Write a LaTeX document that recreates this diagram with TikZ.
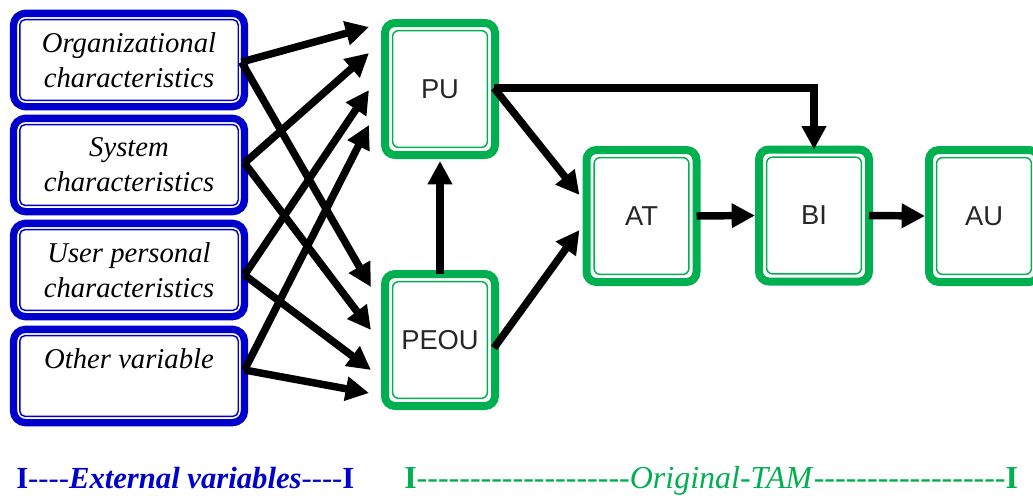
\documentclass[tikz,border=0pt]{standalone}
\usepackage{fontspec}
\setmainfont{Liberation Serif}
\setsansfont{Liberation Sans}
\usepackage{graphicx}
\usetikzlibrary{arrows.meta,calc}
\definecolor{tamgreen}{RGB}{0,176,80}
\definecolor{extblue}{RGB}{0,0,204}
\definecolor{labelgray}{RGB}{38,38,38}
\newcommand\dashrun[1]{\foreach \i in {1,...,#1}{-\kern0pt}}
\begin{document}
\begin{tikzpicture}[x=0.75pt,y=-0.75pt,
  extbox/.style={draw=extblue, line width=5.5pt, rounded corners=9pt, outer sep=0pt,
    minimum width=173.25pt, minimum height=70pt, inner sep=0pt, fill=white,
    align=center, font=\itshape\fontsize{21.5pt}{26.25pt}\selectfont},
  extinner/.style={draw=extblue, line width=1.1pt, rounded corners=4pt},
  tambox/.style={draw=tamgreen, line width=6pt, rounded corners=7.5pt, outer sep=0pt,
    minimum width=82.5pt, minimum height=99pt, inner sep=0pt, fill=white,
    text=labelgray, font=\sffamily\fontsize{20.5pt}{24pt}\selectfont},
  taminner/.style={draw=tamgreen, line width=1.1pt, rounded corners=4.5pt},
  arr/.style={line width=5.6pt, -{Triangle[length=17.5pt,width=17.5pt]}},
  lbl/.style={anchor=base west, inner sep=0pt}]
\useasboundingbox (0,0) rectangle (1033,496);

% external variables
\node[extbox] (org) at (129,60) {Organizational\\characteristics};
\node[extbox] (sys) at (129,165) {System\\characteristics};
\node[extbox] (usr) at (129,270) {User personal\\characteristics};
\node[extbox] (oth) at (129,376) {Other variable\\\mbox{}};
\draw[extinner] ([xshift=4.7pt,yshift=-4.7pt]org.north west) rectangle ([xshift=-4.7pt,yshift=4.7pt]org.south east);
\draw[extinner] ([xshift=4.7pt,yshift=-4.7pt]sys.north west) rectangle ([xshift=-4.7pt,yshift=4.7pt]sys.south east);
\draw[extinner] ([xshift=4.7pt,yshift=-4.7pt]usr.north west) rectangle ([xshift=-4.7pt,yshift=4.7pt]usr.south east);
\draw[extinner] ([xshift=4.7pt,yshift=-4.7pt]oth.north west) rectangle ([xshift=-4.7pt,yshift=4.7pt]oth.south east);

% original TAM
\node[tambox] (PU) at (440,89) {PU};
\node[tambox] (PEOU) at (440,340) {PEOU};
\node[tambox] (AT) at (641.5,216) {AT};
\node[tambox] (BI) at (814,215.5) {BI};
\node[tambox] (AU) at (984,216) {AU};
\draw[taminner] ([xshift=5.7pt,yshift=-5.7pt]PU.north west) rectangle ([xshift=-5.7pt,yshift=5.7pt]PU.south east);
\draw[taminner] ([xshift=5.7pt,yshift=-5.7pt]PEOU.north west) rectangle ([xshift=-5.7pt,yshift=5.7pt]PEOU.south east);
\draw[taminner] ([xshift=5.7pt,yshift=-5.7pt]AT.north west) rectangle ([xshift=-5.7pt,yshift=5.7pt]AT.south east);
\draw[taminner] ([xshift=5.7pt,yshift=-5.7pt]BI.north west) rectangle ([xshift=-5.7pt,yshift=5.7pt]BI.south east);
\draw[taminner] ([xshift=5.7pt,yshift=-5.7pt]AU.north west) rectangle ([xshift=-5.7pt,yshift=5.7pt]AU.south east);

% external -> PU / PEOU
\draw[arr] ($(org.east)+(-3,2)$) -- ($(PU.west)+(-16,-62)$);
\draw[arr] ($(org.east)+(-3,2)$) -- ($(PEOU.west)+(-14,-53)$);
\draw[arr] ($(sys.east)+(0,-2)$) -- ($(PU.west)+(-16,-36)$);
\draw[arr] ($(sys.east)+(0,-2)$) -- ($(PEOU.west)+(-14,-10)$);
\draw[arr] ($(usr.east)+(0,5)$) -- ($(PU.west)+(-16,1)$);
\draw[arr] ($(usr.east)+(0,5)$) -- ($(PEOU.west)+(-14,30)$);
\draw[arr] ($(oth.east)+(0,-6)$) -- ($(PU.west)+(-16,36)$);
\draw[arr] ($(oth.east)+(0,-6)$) -- ($(PEOU.west)+(-16,53)$);

% TAM arrows
\coordinate (puout) at ($(PU.east)+(-1,-1)$);
\draw[arr] (PEOU.north) -- ($(PU.south)+(0,6)$);
\draw[arr] (puout) -- ($(AT.west)+(-7,-21)$);
\draw[arr] ($(PEOU.east)+(-1,8)$) -- ($(AT.west)+(-7,14)$);
\draw[arr] (puout) -- (puout -| BI.north) -- (BI.north);
\draw[arr] (AT.east) -- ($(BI.west)+(-4,0)$);
\draw[arr] (BI.east) -- ($(AU.west)+(-4,0)$);

% bottom labels
\node[lbl, text=extblue, font=\fontsize{23pt}{28pt}\selectfont] (extlbl) at (16,488)
  {\textbf{I}\dashrun{4}\textbf{\textit{External variables}}\dashrun{4}\textbf{I}};
\node[lbl, text=tamgreen, font=\fontsize{24pt}{28pt}\selectfont] (tamlbl) at (404,488)
  {\textbf{I}\dashrun{20}\textit{Original-TAM}\dashrun{18}\textbf{I}};
\end{tikzpicture}
\end{document}
